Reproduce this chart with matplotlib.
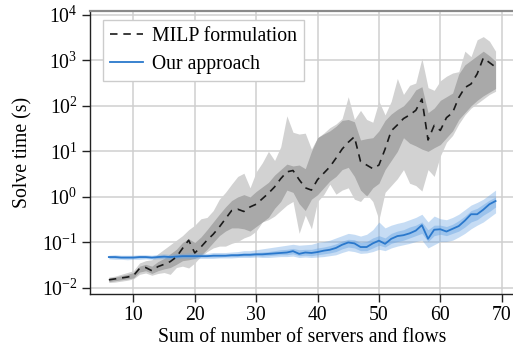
import numpy as np
import matplotlib
matplotlib.use("Agg")
import matplotlib.pyplot as plt

# x values: sum of number of servers and flows
x_vals = list(range(6, 70))

# MILP formulation (log10 of solve time in seconds)
milp_median = [-1.82, -1.80, -1.78, -1.76, -1.73, -1.57, -1.55, -1.62, -1.53, -1.48,
               -1.42, -1.32, -1.13, -0.95, -1.23, -1.10, -0.95, -0.82, -0.66, -0.48,
               -0.30, -0.27, -0.32, -0.22, -0.16, -0.04, 0.08, 0.22, 0.40, 0.55,
               0.58, 0.38, 0.20, 0.15, 0.38, 0.52, 0.66, 0.85, 1.05, 1.20,
               1.32, 0.78, 0.70, 0.62, 0.70, 1.05, 1.45, 1.58, 1.72, 1.80,
               1.90, 2.15, 1.25, 1.57, 1.46, 1.74, 1.85, 2.18, 2.40, 2.48,
               2.70, 3.05, 2.95, 2.85]
milp_q_low = [-1.86, -1.84, -1.82, -1.80, -1.78, -1.65, -1.62, -1.68, -1.62, -1.58,
              -1.55, -1.48, -1.40, -1.38, -1.35, -1.28, -1.15, -1.00, -0.85, -0.75,
              -0.68, -0.68, -0.70, -0.75, -0.65, -0.55, -0.45, -0.25, -0.10, 0.15,
              0.10, -0.15, -0.30, -0.05, 0.05, 0.20, 0.35, 0.45, 0.60, 0.65,
              0.45, 0.15, 0.02, 0.20, 0.30, 0.60, 0.80, 1.00, 1.30, 1.18,
              1.12, 1.05, 1.00, 1.08, 1.15, 1.30, 1.45, 1.70, 1.85, 2.00,
              2.12, 2.22, 2.30, 2.38]
milp_q_high = [-1.78, -1.76, -1.73, -1.70, -1.66, -1.52, -1.48, -1.52, -1.42, -1.35,
               -1.25, -1.15, -1.00, -0.92, -1.00, -0.88, -0.72, -0.55, -0.38, -0.22,
               -0.08, 0.00, 0.05, 0.00, 0.12, 0.22, 0.32, 0.48, 0.60, 0.72,
               0.68, 0.70, 0.62, 1.00, 1.30, 1.38, 1.45, 1.55, 1.68, 1.70,
               1.65, 1.25, 1.28, 1.30, 1.45, 1.68, 1.82, 1.92, 2.00, 2.15,
               2.35, 2.42, 1.85, 1.95, 2.12, 2.20, 2.28, 2.70, 2.90, 3.00,
               3.10, 3.20, 3.10, 2.98]
milp_min = [-1.88, -1.87, -1.85, -1.83, -1.80, -1.70, -1.67, -1.72, -1.68, -1.66,
            -1.70, -1.55, -1.52, -1.56, -1.45, -1.30, -1.20, -1.12, -1.08, -1.08,
            -1.02, -0.98, -0.90, -0.85, -0.75, -0.55, -0.50, -0.42, -0.30, -0.18,
            -0.10, -0.80, -0.40, -0.70, -0.10, 0.05, 0.28, 0.06, 0.15, 0.20,
            -0.05, -0.10, 0.06, -0.10, -0.50, 0.10, 0.25, 0.40, 0.60, 0.30,
            0.25, 0.13, 0.60, 0.45, 0.90, 1.20, 1.35, 1.60, 1.80, 1.95,
            2.05, 2.15, 2.25, 2.32]
milp_max = [-1.76, -1.74, -1.70, -1.66, -1.62, -1.45, -1.40, -1.38, -1.25, -1.15,
            -1.05, -0.95, -0.85, -0.72, -0.62, -0.48, -0.45, -0.30, -0.05, 0.10,
            0.28, 0.45, 0.52, 0.20, 0.55, 0.75, 1.00, 0.80, 1.10, 1.78,
            1.42, 1.38, 1.40, 1.05, 1.30, 1.40, 1.52, 1.60, 1.72, 2.20,
            1.70, 1.90, 1.70, 1.64, 2.10, 1.80, 2.10, 2.60, 2.25, 2.45,
            2.50, 3.04, 2.40, 2.34, 2.55, 2.65, 2.72, 2.75, 3.20, 3.08,
            3.45, 3.52, 3.42, 3.20]

# Our approach (log10 of solve time in seconds)
ours_median = [-1.32, -1.32, -1.33, -1.33, -1.33, -1.32, -1.32, -1.33, -1.32, -1.31,
               -1.32, -1.31, -1.30, -1.30, -1.30, -1.30, -1.30, -1.29, -1.29, -1.29,
               -1.28, -1.28, -1.27, -1.27, -1.26, -1.26, -1.25, -1.24, -1.23, -1.22,
               -1.19, -1.25, -1.22, -1.23, -1.21, -1.18, -1.16, -1.12, -1.05, -1.00,
               -1.02, -1.10, -1.10, -1.02, -0.96, -1.03, -0.92, -0.86, -0.84, -0.80,
               -0.74, -0.62, -0.92, -0.72, -0.71, -0.76, -0.70, -0.64, -0.52, -0.38,
               -0.38, -0.28, -0.16, -0.09]
ours_q_low = [-1.34, -1.34, -1.35, -1.35, -1.35, -1.34, -1.34, -1.35, -1.34, -1.34,
              -1.34, -1.33, -1.33, -1.33, -1.33, -1.32, -1.32, -1.32, -1.32, -1.31,
              -1.31, -1.31, -1.30, -1.30, -1.29, -1.30, -1.29, -1.28, -1.27, -1.27,
              -1.25, -1.29, -1.28, -1.29, -1.27, -1.25, -1.23, -1.20, -1.14, -1.10,
              -1.12, -1.18, -1.18, -1.12, -1.06, -1.10, -1.02, -0.98, -0.95, -0.90,
              -0.85, -0.80, -0.98, -0.85, -0.82, -0.85, -0.80, -0.75, -0.66, -0.55,
              -0.50, -0.40, -0.32, -0.22]
ours_q_high = [-1.30, -1.30, -1.31, -1.31, -1.31, -1.30, -1.30, -1.31, -1.30, -1.29,
               -1.29, -1.28, -1.28, -1.27, -1.27, -1.27, -1.27, -1.26, -1.26, -1.26,
               -1.25, -1.24, -1.23, -1.23, -1.22, -1.21, -1.20, -1.18, -1.16, -1.15,
               -1.13, -1.16, -1.15, -1.15, -1.12, -1.10, -1.07, -1.03, -0.97, -0.93,
               -0.94, -1.00, -0.98, -0.90, -0.85, -0.90, -0.80, -0.75, -0.72, -0.66,
               -0.62, -0.55, -0.72, -0.62, -0.62, -0.65, -0.60, -0.52, -0.42, -0.30,
               -0.25, -0.16, -0.07, 0.00]
ours_min = [-1.36, -1.37, -1.37, -1.38, -1.37, -1.37, -1.36, -1.37, -1.36, -1.36,
            -1.37, -1.36, -1.35, -1.35, -1.36, -1.35, -1.35, -1.35, -1.34, -1.34,
            -1.34, -1.33, -1.33, -1.33, -1.32, -1.33, -1.33, -1.32, -1.31, -1.31,
            -1.30, -1.33, -1.32, -1.33, -1.32, -1.31, -1.29, -1.27, -1.22, -1.18,
            -1.20, -1.24, -1.23, -1.20, -1.15, -1.18, -1.12, -1.08, -1.05, -1.02,
            -0.98, -0.95, -1.12, -1.05, -0.98, -0.98, -0.95, -0.88, -0.80, -0.70,
            -0.62, -0.55, -0.45, -0.35]
ours_max = [-1.28, -1.27, -1.28, -1.28, -1.28, -1.27, -1.27, -1.28, -1.26, -1.25,
            -1.26, -1.24, -1.24, -1.23, -1.23, -1.23, -1.24, -1.22, -1.22, -1.22,
            -1.21, -1.20, -1.18, -1.18, -1.16, -1.14, -1.12, -1.10, -1.08, -1.06,
            -1.04, -1.06, -1.05, -1.04, -1.00, -0.98, -0.95, -0.90, -0.85, -0.80,
            -0.82, -0.86, -0.82, -0.72, -0.55, -0.68, -0.62, -0.58, -0.55, -0.50,
            -0.45, -0.38, -0.55, -0.42, -0.48, -0.50, -0.45, -0.38, -0.28, -0.18,
            -0.12, -0.05, 0.05, 0.15]

legend_labels = ["MILP formulation", "Our approach"]
x_label = "Sum of number of servers and flows"
y_label = "Solve time (s)"

plt.rcParams["font.family"] = ["Liberation Serif", "DejaVu Serif"]
plt.rcParams["mathtext.fontset"] = "stix"
plt.rcParams["font.size"] = 14.2

def tv(a):
    return np.power(10.0, np.asarray(a, dtype=float))

fig = plt.figure(figsize=(5.13, 3.45), dpi=100)
ax = fig.add_axes([0.1745, 0.1480, 0.8292, 0.8192])

x = np.asarray(x_vals)
ax.fill_between(x, tv(milp_min), tv(milp_max), color="#d2d2d2", lw=0, zorder=2)
ax.fill_between(x, tv(milp_q_low), tv(milp_q_high), color="#a9a9a9", lw=0, zorder=2.1)
ax.fill_between(x, tv(ours_min), tv(ours_max), color="#6aa5e4", alpha=0.38, lw=0, zorder=2.2)
ax.fill_between(x, tv(ours_q_low), tv(ours_q_high), color="#6aa5e4", alpha=0.45, lw=0, zorder=2.3)
ax.plot(x, tv(ours_median), color="#2a78cc", lw=1.3, zorder=3, label=legend_labels[1])
ax.plot(x, tv(milp_median), color="#1a1a1a", lw=1.2, ls=(0, (4.5, 3.5)), zorder=3.5,
        label=legend_labels[0])

ax.set_yscale("log")
ax.set_xlim(2.85, 72.15)
ax.set_ylim(10 ** -2.13, 10 ** 4.075)
ax.set_xticks([10, 20, 30, 40, 50, 60, 70])
ax.set_yticks([1e-2, 1e-1, 1e0, 1e1, 1e2, 1e3, 1e4])
ax.yaxis.set_minor_locator(matplotlib.ticker.NullLocator())
ax.grid(True, color="#cfcfcf", lw=1.1, zorder=0)
ax.set_axisbelow(True)
ax.tick_params(axis="both", direction="out", length=5.5, width=1.0, color="#222222", pad=3)
for s in ["left", "bottom"]:
    ax.spines[s].set_color("#222222")
    ax.spines[s].set_linewidth(1.0)
ax.spines["top"].set_color("#8a8a8a")
ax.spines["top"].set_linewidth(1.6)
ax.spines["right"].set_visible(False)

ax.set_xlabel(x_label, labelpad=2)
ax.set_ylabel(y_label, labelpad=7)

handles, labels = ax.get_legend_handles_labels()
order = [1, 0]
leg = ax.legend([handles[i] for i in order], [labels[i] for i in order],
                loc="upper left", bbox_to_anchor=(0.031, 0.969), borderaxespad=0,
                fancybox=False, framealpha=1, edgecolor="#cccccc",
                handlelength=1.7, handletextpad=0.45, labelspacing=0.45, borderpad=0.35)
leg.get_frame().set_linewidth(1.0)

fig.savefig("out.png", dpi=100)
